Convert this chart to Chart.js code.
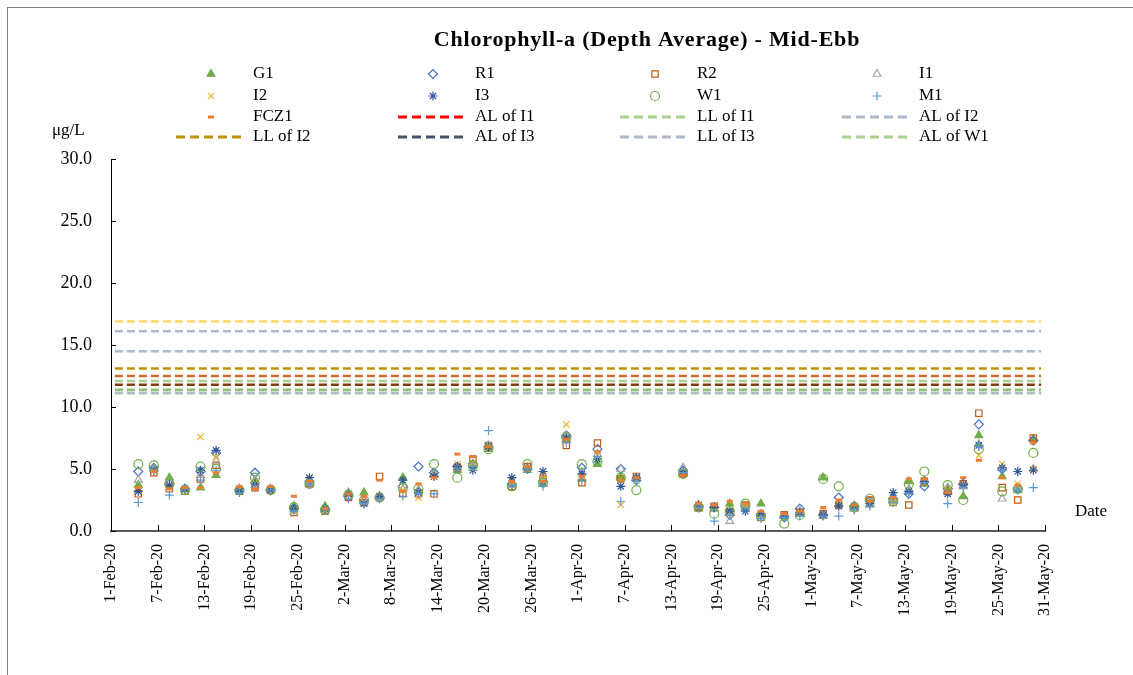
<!DOCTYPE html>
<html>
<head>
<meta charset="utf-8">
<title>Chlorophyll-a (Depth Average) - Mid-Ebb</title>
<script src="https://cdn.jsdelivr.net/npm/chart.js@4/dist/chart.umd.min.js"></script>
<style>
  html, body { margin: 0; padding: 0; background: #fff; }
  #wrap { position: absolute; left: 0; top: 0; width: 1133px; height: 675px; }
</style>
</head>
<body>
<div id="wrap"><canvas id="mycanvas" width="1133" height="675"></canvas></div>
<script>
// sampling dates (Mid-Ebb)
var dates = ["2020-02-04","2020-02-06","2020-02-08","2020-02-10","2020-02-12","2020-02-14","2020-02-17","2020-02-19","2020-02-21",
  "2020-02-24","2020-02-26","2020-02-28","2020-03-02","2020-03-04","2020-03-06","2020-03-09","2020-03-11","2020-03-13",
  "2020-03-16","2020-03-18","2020-03-20","2020-03-23","2020-03-25","2020-03-27","2020-03-30","2020-04-01","2020-04-03",
  "2020-04-06","2020-04-08","2020-04-14","2020-04-16","2020-04-18","2020-04-20","2020-04-22","2020-04-24","2020-04-27",
  "2020-04-29","2020-05-02","2020-05-04","2020-05-06","2020-05-08","2020-05-11","2020-05-13","2020-05-15","2020-05-18",
  "2020-05-20","2020-05-22","2020-05-25","2020-05-27","2020-05-29"];

// station values, ug/L
var G1 = [3.7,5.0,4.3,3.4,3.5,4.5,3.4,4.1,3.4,2.0,3.8,2.0,3.0,3.1,2.8,4.3,3.3,4.6,4.9,5.3,6.6,3.7,4.9,3.8,7.4,4.2,5.4,4.3,4.2,4.6,1.8,1.8,2.2,1.9,2.2,1.2,1.4,4.3,2.2,1.8,2.2,2.5,4.0,3.8,3.3,2.8,7.7,4.4,3.3,7.4];
var R1 = [4.8,5.1,3.8,3.4,4.8,6.3,3.3,4.7,3.3,1.8,4.0,1.7,2.8,2.4,2.7,3.6,5.2,4.7,5.2,5.4,6.8,3.8,5.0,4.0,7.7,5.1,6.6,5.0,4.1,4.9,2.0,1.9,1.3,2.0,1.3,1.1,1.8,1.3,2.7,2.0,2.4,2.6,3.0,3.6,3.4,3.8,8.6,5.0,3.4,7.3];
var R2 = [3.0,4.7,3.4,3.2,4.2,5.3,3.2,3.5,3.3,1.5,3.8,1.6,2.7,2.3,4.4,3.0,3.0,3.0,5.1,5.8,6.9,3.6,5.2,4.2,6.9,3.9,7.1,4.2,4.4,4.6,1.9,2.0,1.5,2.1,1.1,1.3,1.5,1.4,2.1,1.9,2.5,2.3,2.1,4.0,3.2,3.8,9.5,3.5,2.5,7.5];
var I1 = [4.1,5.0,3.9,3.3,4.5,5.6,3.4,4.1,3.4,1.6,3.9,1.7,3.1,2.5,2.8,3.4,3.3,4.5,5.1,5.4,6.9,3.7,5.1,4.1,7.6,4.7,6.2,5.0,4.3,5.1,2.1,1.8,0.8,2.0,1.2,1.2,1.6,1.2,2.2,1.9,2.1,2.4,3.4,4.1,3.5,3.6,7.0,2.6,3.5,5.0];
var I2 = [3.3,4.9,3.6,3.3,7.6,6.0,3.3,3.9,3.3,1.7,4.2,1.7,2.9,2.3,2.7,3.3,2.7,4.4,5.4,5.5,6.7,4.0,5.0,4.5,8.6,4.4,6.1,2.1,4.1,4.7,2.0,1.9,1.4,1.9,1.3,1.1,1.4,1.3,2.0,1.8,2.3,2.3,3.2,3.9,3.3,3.7,6.1,5.4,3.8,5.0];
var I3 = [3.2,4.9,3.7,3.4,4.9,6.5,3.2,3.8,3.3,1.8,4.3,1.8,3.0,2.2,2.8,4.1,3.1,4.4,5.2,4.9,6.8,4.3,5.1,4.8,7.5,4.6,5.8,3.6,4.3,4.8,2.1,1.9,1.6,1.6,1.4,1.2,1.5,1.3,2.0,2.0,2.2,3.1,3.2,4.0,3.0,3.7,6.9,5.1,4.8,4.9];
var W1 = [5.4,5.3,3.8,3.3,5.2,5.0,3.3,4.3,3.3,1.9,3.8,1.7,2.9,2.5,2.7,3.5,3.4,5.4,4.3,5.3,6.6,3.6,5.4,3.9,7.6,5.4,5.6,4.3,3.3,4.6,1.9,1.4,1.6,2.2,1.2,0.6,1.3,4.2,3.6,1.9,2.6,2.4,3.8,4.8,3.7,2.5,6.6,3.2,3.4,6.3];
var M1 = [2.3,4.9,2.9,3.4,4.1,4.9,3.1,3.5,3.3,1.6,3.8,1.7,2.6,2.2,2.6,2.8,3.0,3.0,5.0,5.2,8.1,3.7,5.0,3.6,7.1,4.1,6.0,2.4,4.0,4.7,1.9,0.8,1.3,1.8,1.0,1.1,1.2,1.2,1.2,1.7,2.0,2.3,3.0,3.9,2.2,3.5,6.8,4.9,3.3,3.5];
var FCZ1 = [3.5,4.8,3.4,3.5,3.5,4.7,3.6,3.4,3.6,2.8,4.0,1.8,3.0,2.8,4.1,3.2,3.8,4.3,6.2,6.0,6.8,4.0,5.2,4.0,7.4,4.4,6.4,4.1,4.3,4.5,2.2,2.1,2.4,2.2,1.6,1.4,1.6,1.9,2.5,2.1,2.4,2.7,4.2,4.2,3.1,4.3,5.7,4.3,3.7,7.1];

// action / limit levels
var limitNames = ["AL of I1","LL of I1","AL of I2","LL of I2","AL of I3","LL of I3","AL of W1","LL of W1","AL of M1","LL of M1"];
var limitValues = [12.5, 11.4, 16.1, 13.1, 11.8, 14.5, 12.1, 11.1, 16.9, 11.15];
var limitSpan = ["2020-02-01","2020-05-30"];

var yTicks = [0, 5, 10, 15, 20, 25, 30];
var months = ["Jan","Feb","Mar","Apr","May","Jun","Jul","Aug","Sep","Oct","Nov","Dec"];
var start = Date.UTC(2020, 1, 1);

function dayOf(s) {
	var p = s.split("-");
	return (Date.UTC(+p[0], +p[1] - 1, +p[2]) - start) / 86400000 + 0.5;
}
function pts(vals) {
	var out = [];
	for (var i in dates) {
		if (vals[i] != null) out.push({x: dayOf(dates[i]), y: vals[i]});
	}
	return out;
}

var stations = [
	{label: "G1", data: G1, style: "triangle", color: "#70AD47", fill: true},
	{label: "R1", data: R1, style: "rectRot", color: "#4472C4", fill: false},
	{label: "R2", data: R2, style: "rect", color: "#C55A11", fill: false},
	{label: "I1", data: I1, style: "triangle", color: "#A5A5A5", fill: false},
	{label: "I2", data: I2, style: "crossRot", color: "#F2B227", fill: false},
	{label: "I3", data: I3, style: "star", color: "#2F5597", fill: false},
	{label: "W1", data: W1, style: "circle", color: "#70AD47", fill: false},
	{label: "M1", data: M1, style: "cross", color: "#5B9BD5", fill: false},
	{label: "FCZ1", data: FCZ1, style: "line", color: "#ED7D31", fill: true}
];
var lineColors = ["#D4682A","#92C06E","#ADB9CA","#BF9000","#843C0C","#ADB9CA","#A9D18E","#A9D18E","#FFD966","#ADB9CA"];
var legendLineColors = ["#FF0000","#A9D18E","#ADB9CA","#BF9000","#44546A","#ADB9CA","#A9D18E","#A9D18E","#FFD966","#ADB9CA"];

var datasets = [];
stations.forEach(function(s, i) {
	datasets.push({
		type: "scatter",
		label: s.label,
		data: pts(s.data),
		pointStyle: s.style,
		pointRadius: s.style == "line" ? 3 : 4.5,
		pointBorderWidth: s.style == "line" ? 3 : 1.2,
		borderColor: s.color,
		backgroundColor: s.fill ? s.color : "rgba(0,0,0,0)",
		showLine: false,
		order: 40 - i
	});
});
limitNames.forEach(function(n, i) {
	datasets.push({
		type: "line",
		label: n,
		data: limitSpan.map(function(d) { return {x: dayOf(d), y: limitValues[i]}; }),
		borderColor: lineColors[i],
		legendColor: legendLineColors[i],
		borderWidth: 2.5,
		borderDash: [8, 4],
		pointRadius: 0,
		fill: false,
		order: 60 - i
	});
});

var serif = "'Liberation Serif', 'Times New Roman', serif";

var overlay = {
	id: "overlay",
	afterDraw: function(chart) {
		var ctx = chart.ctx, a = chart.chartArea, xs = chart.scales.x, ys = chart.scales.y;
		ctx.save();
		// frame
		ctx.strokeStyle = "#7f7f7f";
		ctx.lineWidth = 1;
		ctx.strokeRect(7.5, 7.5, 1200, 700);
		// inside tick marks
		ctx.strokeStyle = "#000";
		for (var v = 0; v <= 120; v += 6) {
			var px = Math.round(xs.getPixelForValue(v)) + 0.5;
			ctx.beginPath(); ctx.moveTo(px, a.bottom); ctx.lineTo(px, a.bottom - 6); ctx.stroke();
		}
		yTicks.forEach(function(t) {
			var py = Math.round(ys.getPixelForValue(t)) + 0.5;
			ctx.beginPath(); ctx.moveTo(a.left, py); ctx.lineTo(a.left + 5, py); ctx.stroke();
		});
		// texts
		ctx.fillStyle = "#000";
		ctx.textBaseline = "middle";
		ctx.textAlign = "center";
		ctx.font = "bold 22px " + serif;
		ctx.letterSpacing = "0.8px";
		ctx.fillText("Chlorophyll-a (Depth Average) - Mid-Ebb", 647, 40);
		ctx.letterSpacing = "0px";
		ctx.font = "17px " + serif;
		ctx.textAlign = "left";
		ctx.fillText("\u03bcg/L", 52, 131);
		ctx.fillText("Date", 1075, 512);
		// legend grid, 4 columns
		var colX = [211, 433, 655, 877], rowY = [74, 96, 117, 137];
		var shown = chart.data.datasets.slice(0, 16);
		shown.forEach(function(ds, i) {
			var cx = colX[i % 4], cy = rowY[Math.floor(i / 4)];
			if (ds.type == "line") {
				ctx.save();
				ctx.strokeStyle = ds.legendColor;
				ctx.lineWidth = 3;
				ctx.setLineDash([9, 5]);
				ctx.beginPath(); ctx.moveTo(cx - 35, cy); ctx.lineTo(cx + 35, cy); ctx.stroke();
				ctx.restore();
			} else {
				ctx.save();
				ctx.strokeStyle = ds.borderColor;
				ctx.fillStyle = ds.backgroundColor;
				ctx.lineWidth = ds.pointBorderWidth;
				Chart.helpers.drawPoint(ctx, {pointStyle: ds.pointStyle, radius: ds.pointRadius, borderWidth: ds.pointBorderWidth, rotation: 0}, cx, cy);
				ctx.restore();
			}
			ctx.fillStyle = "#000";
			ctx.fillText(ds.label, cx + 42, cy);
		});
		ctx.restore();
	}
};

var ctx = document.getElementById("mycanvas");
var chart = new Chart(ctx, {
	data: {datasets: datasets},
	options: {
		responsive: false,
		animation: false,
		layout: {padding: {top: 159, right: 88, bottom: 0, left: 0}},
		plugins: {legend: {display: false}, title: {display: false}, tooltip: {enabled: false}},
		scales: {
			x: {
				type: "linear",
				min: 0,
				max: 120,
				grid: {display: false, drawTicks: false},
				border: {display: true, color: "#595959", width: 2},
				afterFit: function(s) { s.height = 144; },
				afterBuildTicks: function(s) {
					var t = [];
					for (var v = 0; v <= 120; v += 6) t.push({value: v});
					s.ticks = t;
				},
				ticks: {
					autoSkip: false,
					maxRotation: 90,
					minRotation: 90,
					padding: 13,
					color: "#000",
					font: {family: serif, size: 16},
					callback: function(v) {
						var d = new Date(start + v * 86400000);
						return d.getUTCDate() + "-" + months[d.getUTCMonth()] + "-20";
					}
				}
			},
			y: {
				min: 0,
				max: 30,
				grid: {display: false, drawTicks: false},
				border: {display: true, color: "#000", width: 1},
				afterFit: function(s) { s.width = 111; },
				ticks: {
					stepSize: 5,
					padding: 19,
					color: "#000",
					font: {family: serif, size: 18},
					callback: function(v) { return v.toFixed(1); }
				}
			}
		}
	},
	plugins: [overlay]
});
</script>
</body>
</html>
